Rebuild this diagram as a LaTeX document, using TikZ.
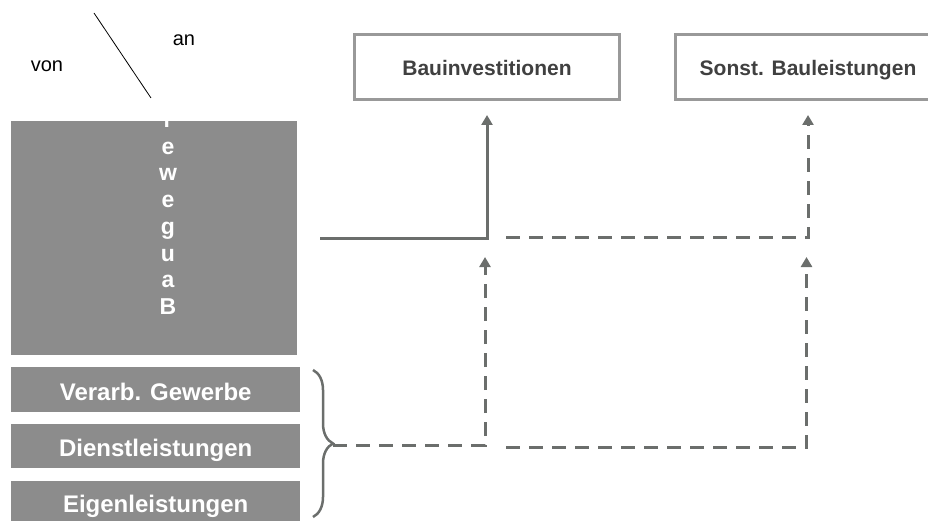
\documentclass[tikz,border=0pt]{standalone}
\usepackage{fontspec}
\setmainfont{Liberation Sans}
\usetikzlibrary{arrows.meta,decorations.pathreplacing}
\begin{document}
\begin{tikzpicture}[x=1pt,y=-1pt,
  graybox/.style={fill=boxgray,text=white,anchor=north west,inner sep=0pt,
    text height=21pt,text depth=0pt,font=\bfseries\fontsize{24}{28}\selectfont},
  topbox/.style={draw=framegray,line width=3pt,fill=white,text=textgray,anchor=north west,
    inner sep=0pt,minimum width=265pt,minimum height=65pt,text height=19pt,text depth=1pt,
    font=\bfseries\fontsize{21}{25}\selectfont},
  flow/.style={draw=linegray,line width=3pt,-{Triangle[length=10pt,width=11pt]}},
  dflow/.style={flow,dash pattern=on 14pt off 9pt}]
  \definecolor{boxgray}{HTML}{8C8C8C}
  \definecolor{framegray}{HTML}{999999}
  \definecolor{linegray}{HTML}{6B6E6C}
  \definecolor{textgray}{HTML}{404040}
  \clip (0,0) rectangle (928,521);
  % corner: von / an
  \draw [line width=0.8pt] (94,13) -- (151,98);
  \node (von) at (47,66) {\fontsize{20}{24}\selectfont von};
  \node (an) at (184,40) {\fontsize{20}{24}\selectfont an};
  % target boxes
  \node [topbox] (binv) at (353,33) {Bauinvestitionen};
  \node [topbox] (sonst) at (674,33) {Sonst. Bauleistungen};
  % source boxes
  \node [graybox,minimum width=286pt,minimum height=234pt] (bau) at (11,121) {};
  \begin{scope}
    \clip (bau.north west) rectangle (bau.south east);
    \foreach \c [count=\i] in {B,a,u,g,e,w,e,r,b,e}
      \node [text=white,anchor=base,inner sep=0pt,font=\bfseries\fontsize{23}{26}\selectfont]
        (l\i) at (168,{314.5-26.7*(\i-1)}) {\c};
  \end{scope}
  \node [graybox,minimum width=289pt,minimum height=45pt] (verarb) at (11,367) {Verarb. Gewerbe};
  \node [graybox,minimum width=289pt,minimum height=44pt] (dienst) at (11,424) {Dienstleistungen};
  \node [graybox,minimum width=289pt,minimum height=42pt] (eigen) at (11,481) {Eigenleistungen};
  \draw [linegray,line width=2.5pt,decorate,decoration={brace,amplitude=20pt}] (313,370) -- (313,517);
  % flows
  \coordinate (btip) at (333,445);
  \coordinate (s1) at (506,238);
  \coordinate (s2) at (506,447);
  \coordinate (a1) at (485,257);
  \coordinate (a2) at (806.5,257);
  \draw [flow,shorten <=23pt,shorten >=14pt] (bau.east) -| (binv.south);
  \draw [dflow,shorten >=14pt] (s1) -| (sonst.south);
  \draw [dflow] (btip) -| (a1);
  \draw [dflow] (s2) -| (a2);
\end{tikzpicture}
\end{document}
